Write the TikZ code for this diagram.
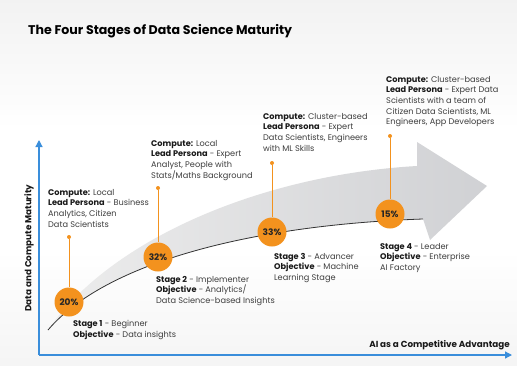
\documentclass[tikz,border=0pt]{standalone}
\usepackage{fontspec}
\setmainfont{Poppins}
\usetikzlibrary{arrows.meta}
\definecolor{orng}{RGB}{243,146,30}
\definecolor{axblue}{RGB}{58,142,219}
\definecolor{txtgray}{RGB}{62,62,62}
\definecolor{band}{RGB}{208,209,212}

\tikzset{
  pct/.style={circle,fill=orng,minimum size=29pt,inner sep=0pt,text=black!85,
    font=\bfseries\fontsize{9}{9}\selectfont},
  pin/.style={circle,fill=orng,minimum size=4pt,inner sep=0pt},
  stem/.style={orng,line width=0.8pt},
  info/.style={anchor=north west,align=left,inner sep=0pt,text=txtgray,
    font=\fontsize{8.2}{10.6}\selectfont},
  axis/.style={axblue,line width=1.2pt,-{Triangle[length=7pt,width=7pt]}},
  axlabel/.style={inner sep=0pt,text=black!90,font=\bfseries\fontsize{8.8}{9}\selectfont},
}
\newcommand{\hd}[1]{\textbf{\color{black!90}#1}}

\begin{document}
\begin{tikzpicture}[x=1pt,y=-1pt]
\useasboundingbox (0,0) rectangle (517,365);

% background
\fill[white] (0,0) rectangle (517,365);
\shade[top color=gray!10,bottom color=white] (0,0) rectangle (517,130);
\shade[top color=white,bottom color=gray!8] (0,250) rectangle (517,365);

\node[anchor=west,inner sep=0pt,font=\bfseries\fontsize{12.6}{14}\selectfont] (title) at (28,31.5) {The Four Stages of Data Science Maturity};

% the big arrow
\shade[left color=gray!14,right color=band] (48,330) .. controls (110,240) and (260,175) .. (417,166)
  -- (417,142) -- (487,186) -- (430,240) -- (423,219)
  .. controls (250,225) and (105,263) .. (48,330) -- cycle;
\draw[black!80,line width=0.8pt] (48,330) .. controls (105,263) and (250,225) .. (423,219);

% axes
\coordinate (O) at (39,355);
\coordinate (ytop) at (39,140);
\coordinate (xend) at (512,355);
\draw[axis] (O) -- (ytop);
\draw[axis] (O) -- (xend);
\node[axlabel,rotate=90] (ylab) at (29,248) {Data and Compute Maturity};
\node[axlabel,anchor=base east] (xlab) at (510,347) {AI as a Competitive Advantage};

% stages
\node[pin] (p1) at (69,237) {};
\node[pct] (c1) at (69,302) {20\%};
\draw[stem] (p1) -- (c1);
\node[pin] (p2) at (158,188) {};
\node[pct] (c2) at (158,257) {32\%};
\draw[stem] (p2) -- (c2);
\node[pin] (p3) at (272,163) {};
\node[pct] (c3) at (272,232) {33\%};
\draw[stem] (p3) -- (c3);
\node[pin] (p4) at (390,136) {};
\node[pct] (c4) at (390,214) {15\%};
\draw[stem] (p4) -- (c4);

\node[info] (t1) at (48,189) {\hd{Compute:} Local\\ \hd{Lead Persona} - Business\\ Analytics, Citizen\\ Data Scientists};
\node[info] (t2) at (151,140) {\hd{Compute:} Local\\ \hd{Lead Persona} - Expert\\ Analyst, People with\\ Stats/Maths Background};
\node[info] (t3) at (263,113) {\hd{Compute:} Cluster-based\\ \hd{Lead Persona} - Expert\\ Data Scientists, Engineers\\ with ML Skills};
\node[info] (t4) at (386,76) {\hd{Compute:} Cluster-based\\ \hd{Lead Persona} - Expert Data\\ Scientists with a team of\\ Citizen Data Scientists, ML\\ Engineers, App Developers};

\node[info] (s1) at (73,320) {\hd{Stage 1} - Beginner\\ \hd{Objective} - Data insights};
\node[info] (s2) at (156,276) {\hd{Stage 2} - Implementer\\ \hd{Objective} - Analytics/\\ Data Science-based Insights};
\node[info] (s3) at (274,253) {\hd{Stage 3} - Advancer\\ \hd{Objective} - Machine\\ Learning Stage};
\node[info] (s4) at (380,243) {\hd{Stage 4} - Leader\\ \hd{Objective} - Enterprise\\ AI Factory};
\end{tikzpicture}
\end{document}
